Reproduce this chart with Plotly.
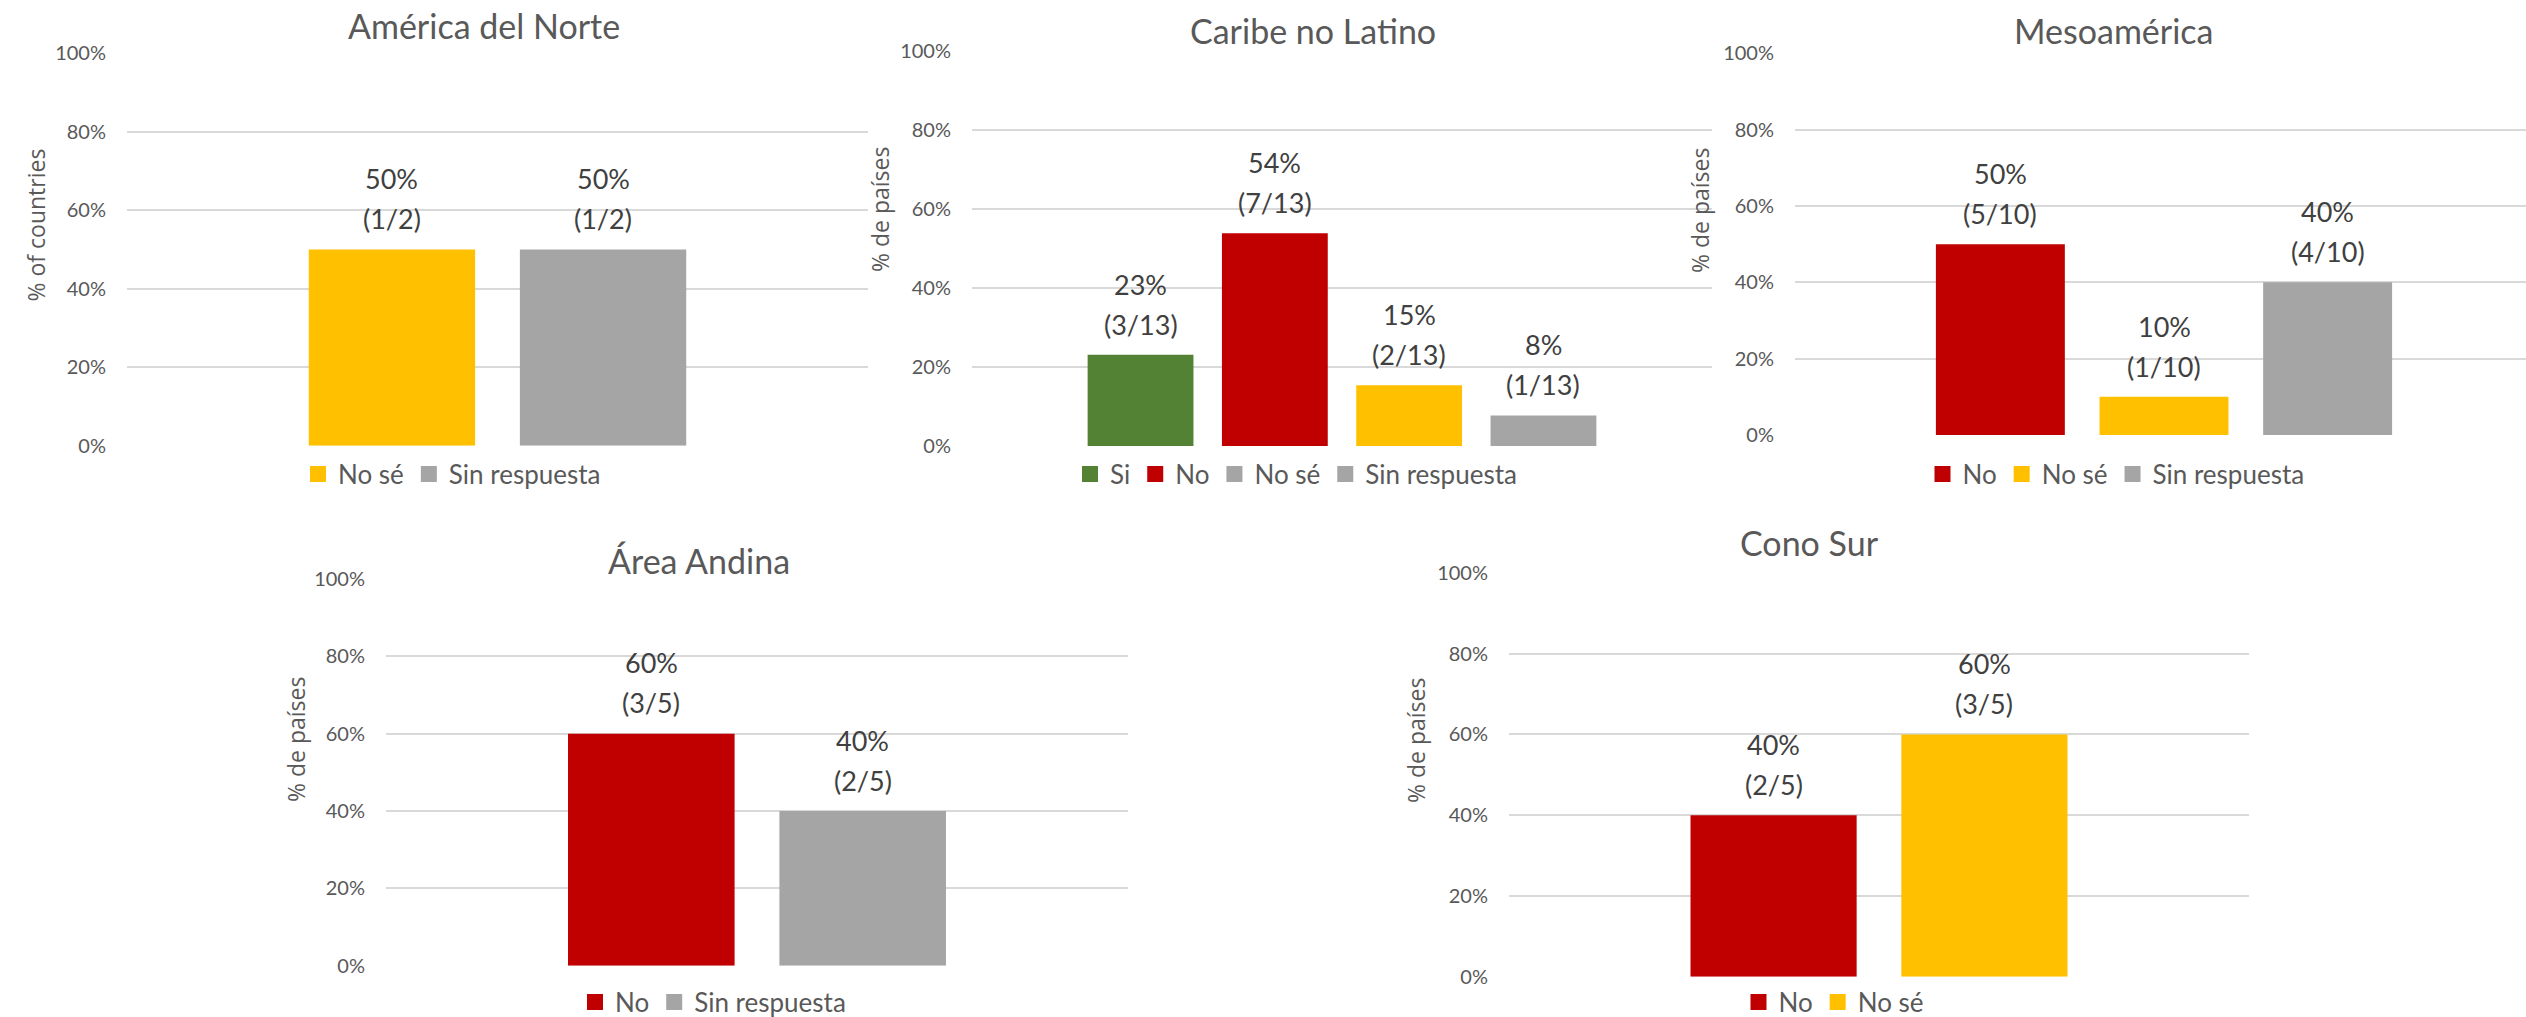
import plotly.graph_objects as go

W, H = 2526, 1017  # browser window = figure size (page margin removed below)

# ---------------- data ----------------
titles = ["América del Norte", "Caribe no Latino", "Mesoamérica", "Área Andina", "Cono Sur"]
axis_titles = ["% of countries", "% de países", "% de países", "% de países", "% de países"]

na_categories = ["No sé", "Sin respuesta"]
na_counts = [1, 1]
na_total = 2

cnl_categories = ["Si", "No", "No sé", "Sin respuesta"]
cnl_counts = [3, 7, 2, 1]
cnl_total = 13

meso_categories = ["No", "No sé", "Sin respuesta"]
meso_counts = [5, 1, 4]
meso_total = 10

andina_categories = ["No", "Sin respuesta"]
andina_counts = [3, 2]
andina_total = 5

sur_categories = ["No", "No sé"]
sur_counts = [2, 3]
sur_total = 5

tick_values = [0, 0.2, 0.4, 0.6, 0.8, 1.0]

# ---------------- styles ----------------
BAR_COLORS = {"Si": "#548235", "No": "#C00000", "No sé": "#FFC000", "Sin respuesta": "#A5A5A5"}
# the original legend of "Caribe no Latino" shows a grey swatch for "No sé"
LEGEND_OVERRIDES = {1: {"No sé": "#A5A5A5"}}

FONT = "Lato, Carlito, Calibri, sans-serif"
AXIS_TITLE_FONT = "Open Sans, sans-serif"
GRID = "#D9D9D9"
TXT = "#595959"
LBL = "#404040"

panels = [
    (na_categories, na_counts, na_total),
    (cnl_categories, cnl_counts, cnl_total),
    (meso_categories, meso_counts, meso_total),
    (andina_categories, andina_counts, andina_total),
    (sur_categories, sur_counts, sur_total),
]

# layout geometry in pixels (plot area and text anchors)
geom = [
    dict(x0=127, x1=868, ytop=53.3, ybot=445.7, title=(484, 38), ytitle=(35.5, 225), legend=(452, 474)),
    dict(x0=972, x1=1712, ytop=51, ybot=446, title=(1313, 43), ytitle=(880, 210), legend=(1296, 474)),
    dict(x0=1795, x1=2533, ytop=53.3, ybot=435, title=(2113, 43), ytitle=(1700, 210), legend=(2116, 474)),
    dict(x0=386, x1=1128, ytop=579, ybot=965.7, title=(699, 573), ytitle=(296, 740), legend=(713, 1002)),
    dict(x0=1509, x1=2249, ytop=573, ybot=976.7, title=(1809, 555), ytitle=(1416, 741), legend=(1834, 1002)),
]


def fx(px):
    return px / W


def fy(py):
    return 1 - py / H


BARGAP = 0.212
PAD = 0.755  # empty category units on each side (Excel gap width)

TITLE_FS = 34
LABEL_FS = 27
TICK_FS = 20
LEGEND_FS = 26
AXT_FS = 23

fig = go.Figure()
annotations = []
layout = dict(
    template="none",
    width=W, height=H, autosize=False,
    margin=dict(l=0, r=0, t=0, b=0, pad=0, autoexpand=False),
    paper_bgcolor="white", plot_bgcolor="white",
    barmode="group", bargap=BARGAP, bargroupgap=0,
    showlegend=True,
    font=dict(family=FONT, color=TXT),
)

for i, ((cats, counts, total), g) in enumerate(zip(panels, geom)):
    k = "" if i == 0 else str(i + 1)
    xa, ya = "x" + k, "y" + k
    values = [c / total for c in counts]
    n = len(cats)

    fig.add_trace(go.Bar(
        x=cats, y=values, xaxis=xa, yaxis=ya,
        marker=dict(color=[BAR_COLORS[c] for c in cats], line=dict(width=0)),
        showlegend=False, hoverinfo="x+y",
    ))

    legend_name = "legend" + k
    for c in cats:
        col = LEGEND_OVERRIDES.get(i, {}).get(c, BAR_COLORS[c])
        fig.add_trace(go.Scatter(
            x=[None], y=[None], xaxis=xa, yaxis=ya, mode="markers", name=c,
            marker=dict(symbol="square", size=16, color=col, line=dict(width=0)),
            legend=legend_name, hoverinfo="skip",
        ))

    # domains (the right panel's plot area runs past the window edge)
    x1_vis = min(g["x1"], W)
    full_units = n + 2 * PAD
    r0 = -0.5 - PAD
    r1 = r0 + full_units * (x1_vis - g["x0"]) / (g["x1"] - g["x0"])
    layout["xaxis" + k] = dict(
        domain=[fx(g["x0"]), min(fx(x1_vis), 1.0)], anchor=ya, type="category",
        categoryorder="array", categoryarray=cats, range=[r0, r1],
        showticklabels=False, showgrid=False, zeroline=False, showline=False,
        ticks="", fixedrange=True, automargin=False,
    )
    layout["yaxis" + k] = dict(
        domain=[fy(g["ybot"]), fy(g["ytop"])], anchor=xa,
        range=[0, 1], tickvals=tick_values, tickformat=".0%",
        showgrid=True, gridcolor=GRID, gridwidth=2, zeroline=False, showline=False,
        ticks="", ticklabelstandoff=20, automargin=False,
        tickfont=dict(family=FONT, size=TICK_FS, color=TXT), fixedrange=True,
    )
    layout[legend_name] = dict(
        orientation="h", x=fx(g["legend"][0]), y=fy(g["legend"][1]),
        xanchor="center", yanchor="middle", bgcolor="rgba(0,0,0,0)", borderwidth=0,
        font=dict(family=FONT, size=LEGEND_FS, color=TXT), traceorder="normal",
        itemclick=False, itemdoubleclick=False,
    )

    # title
    annotations.append(dict(
        text=titles[i], xref="paper", yref="paper",
        x=fx(g["title"][0]), y=fy(g["title"][1]), xanchor="center", yanchor="bottom",
        yshift=-(0.21 * TITLE_FS + 2) - 1, showarrow=False,
        font=dict(family=FONT, size=TITLE_FS, color=TXT),
    ))
    # y axis title
    annotations.append(dict(
        text=axis_titles[i], xref="paper", yref="paper", textangle=-90,
        x=fx(g["ytitle"][0]), y=fy(g["ytitle"][1]), xanchor="center", yanchor="middle",
        showarrow=False, font=dict(family=AXIS_TITLE_FONT, size=AXT_FS, color=TXT),
    ))
    # data labels: percentage line and count line
    for c, cnt, v in zip(cats, counts, values):
        annotations.append(dict(
            text=f"{round(v * 100)}%", x=c, y=v, xref=xa, yref=ya,
            xanchor="center", yanchor="bottom", yshift=60 - (0.21 * LABEL_FS + 2),
            showarrow=False, font=dict(family=FONT, size=LABEL_FS, color=LBL),
        ))
        annotations.append(dict(
            text=f"({cnt}/{total})", x=c, y=v, xref=xa, yref=ya,
            xanchor="center", yanchor="bottom", yshift=20 - (0.21 * LABEL_FS + 2),
            showarrow=False, font=dict(family=FONT, size=LABEL_FS, color=LBL),
        ))

layout["annotations"] = annotations
fig.update_layout(**layout)

# remove the browser's default page margin so the figure fills the window exactly
page_fix = (
    "document.documentElement.style.margin='0';"
    "document.body.style.margin='0';"
    "document.body.style.overflow='hidden';"
)
fig.write_html("out.html", post_script=page_fix, config={"displayModeBar": False})
